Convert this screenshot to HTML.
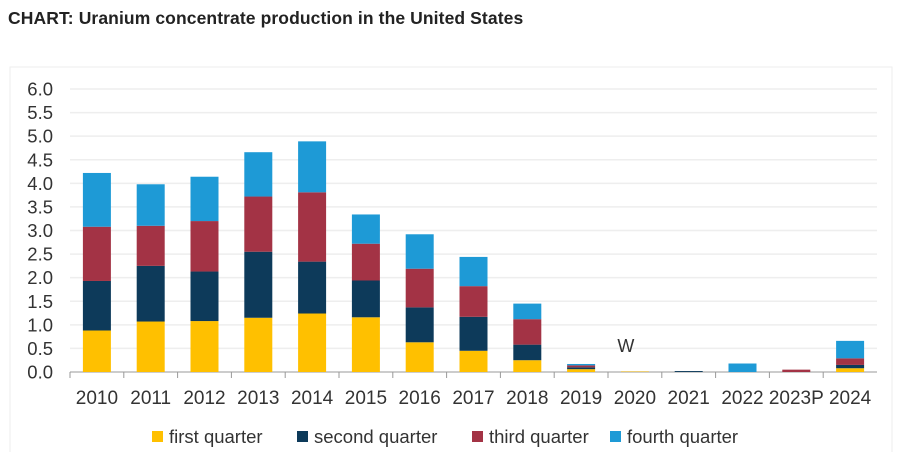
<!DOCTYPE html>
<html><head><meta charset="utf-8"><style>
body{margin:0;background:#fff;font-family:"Liberation Sans",sans-serif;}
#t{position:absolute;left:8px;top:8px;font-size:17.5px;font-weight:bold;color:#222;letter-spacing:0.1px}
</style></head><body>
<div id="t">CHART: Uranium concentrate production in the United States</div>
<svg id="c" width="898" height="452" style="position:absolute;left:0;top:0">
<rect x="10" y="67" width="882" height="390" fill="none" stroke="#eeeeee"/>
</svg>
<script>
const categories=["2010","2011","2012","2013","2014","2015","2016","2017","2018","2019","2020","2021","2022","2023P","2024"];
const q1=[0.88,1.07,1.08,1.15,1.24,1.16,0.63,0.45,0.25,0.06,0.01,0,0,0,0.08];
const q2=[1.05,1.18,1.05,1.40,1.10,0.78,0.74,0.72,0.33,0.04,0,0.02,0,0,0.07];
const q3=[1.15,0.85,1.07,1.17,1.47,0.78,0.82,0.65,0.54,0.04,0,0,0,0.05,0.14];
const q4=[1.14,0.88,0.94,0.94,1.08,0.62,0.73,0.62,0.33,0.03,0,0,0.18,0,0.37];
const seriesNames=["first quarter","second quarter","third quarter","fourth quarter"];
const yTicks=[0,0.5,1.0,1.5,2.0,2.5,3.0,3.5,4.0,4.5,5.0,5.5,6.0];
const colors=["#ffc000","#0d3a5a","#a33345","#1e9ad6"];
const svg=document.getElementById('c'),NS="http://www.w3.org/2000/svg";
const x0=70,x1=877,y0=372,yTop=89;
const bw=(x1-x0)/categories.length;
const Y=v=>y0-(v/6)*(y0-yTop);
const X=i=>x0+bw*(i+0.5);
function mk(t,a,txt){const e=document.createElementNS(NS,t);for(const k in a)e.setAttribute(k,a[k]);if(txt!=null)e.textContent=txt;svg.appendChild(e);return e;}
yTicks.forEach(v=>{
 const g=mk('line',{x1:x0,x2:x1,y1:Y(v),y2:Y(v),stroke:v===0?'#bbb':'#eeeeee','stroke-width':1.5});
 
 
 const t=mk('text',{x:53,y:Y(v)+6.5,'text-anchor':'end','font-size':18.5,fill:'#333'},v.toFixed(1));
 
 
});
const series=[q1,q2,q3,q4];
categories.forEach((c,i)=>{
 let acc=0;
 series.forEach((s,k)=>{
  if(s[i]<=0)return;
  const r=mk('rect',{x:X(i)-14,width:28,y:Y(acc+s[i]),height:Y(acc)-Y(acc+s[i]),fill:colors[k]});
  
  
  acc+=s[i];
 });
 const tk=mk('line',{x1:x0+bw*i,x2:x0+bw*i,y1:y0,y2:y0+6,stroke:'#999'});
 
 
 const t=mk('text',{x:X(i),y:404,'text-anchor':'middle','font-size':19,fill:'#333'},c);
 
 
});
const w=mk('text',{x:X(10)-9,y:352,'text-anchor':'middle','font-size':18,fill:'#333'},'W');


const lx=[152,297,472,610];
seriesNames.forEach((n,k)=>{
 const r=mk('rect',{x:lx[k],y:431,width:11,height:11,fill:colors[k]});
 
 
 const t=mk('text',{x:lx[k]+17,y:443,'font-size':18.5,fill:'#333'},n);
 
 
});
</script>
</body></html>
